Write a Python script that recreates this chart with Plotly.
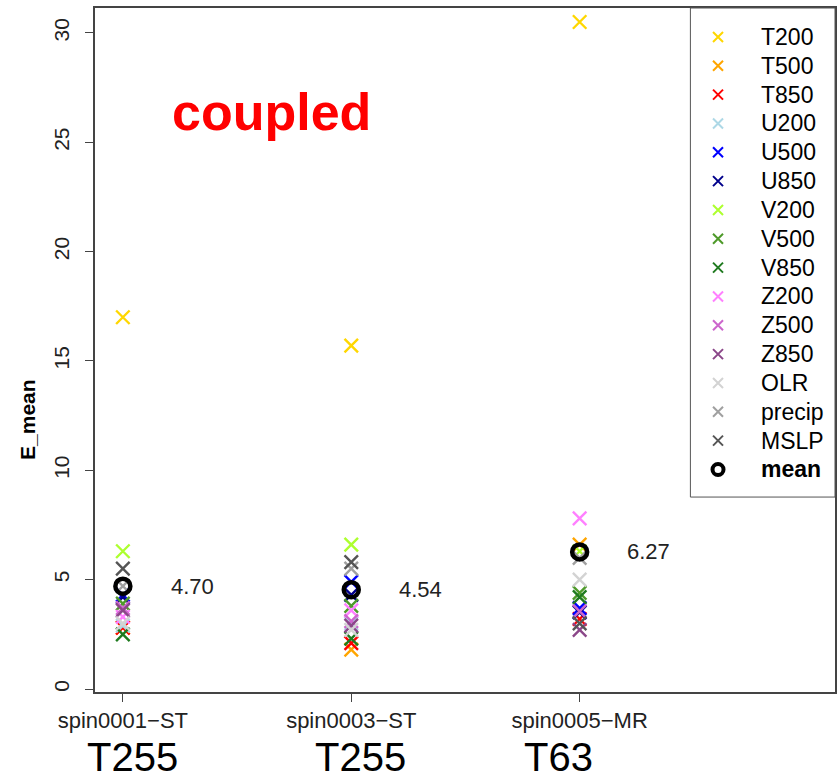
import plotly.graph_objects as go

# Runs shown along the x axis
runs = ["spin0001\u2212ST", "spin0003\u2212ST", "spin0005\u2212MR"]
resolutions = ["T255", "T255", "T63"]

# Mean error of each field for each run
variables = ["T200", "T500", "T850", "U200", "U500", "U850",
             "V200", "V500", "V850", "Z200", "Z500", "Z850",
             "OLR", "precip", "MSLP"]
T200 = [17.0, 15.7, 30.5]
T500 = [2.8, 1.8, 6.6]
T850 = [2.8, 2.1, 3.2]
U200 = [2.9, 3.0, 3.6]
U500 = [4.3, 4.9, 3.7]
U850 = [4.2, 4.3, 3.5]
V200 = [6.3, 6.6, 6.3]
V500 = [3.9, 3.8, 4.4]
V850 = [2.5, 2.3, 4.2]
Z200 = [3.3, 3.6, 7.8]
Z500 = [3.7, 3.1, 3.55]
Z850 = [3.6, 2.9, 2.7]
OLR = [3.0, 2.7, 5.0]
precip = [4.7, 5.5, 6.0]
MSLP = [5.5, 5.8, 3.0]

series = [T200, T500, T850, U200, U500, U850, V200, V500, V850,
          Z200, Z500, Z850, OLR, precip, MSLP]
colors = ["#FFD700", "#FFA500", "#FF0000", "#ADD8E6", "#0000FF", "#00008B",
          "#ADFF2F", "#4E9A2A", "#1F7A1F", "#FF80FF", "#CC66CC", "#8B4789",
          "#D3D3D3", "#A0A0A0", "#555555"]

xpos = [1, 2, 3]
means = [sum(s[i] for s in series) / len(series) for i in range(len(runs))]

FONT = "Liberation Sans, Arial, Helvetica, sans-serif"
AXIS_COL = "#444444"

fig = go.Figure()

for name, vals, col in zip(variables, series, colors):
    fig.add_trace(go.Scatter(
        x=xpos, y=vals, mode="markers", name=name, showlegend=False,
        marker=dict(symbol="x-thin-open", size=13.5, color=col,
                    line=dict(color=col, width=2.4)),
    ))

fig.add_trace(go.Scatter(
    x=xpos, y=means, mode="markers", name="mean", showlegend=False,
    marker=dict(symbol="circle-open", size=15, color="black",
                line=dict(color="black", width=4.5)),
))

# Mean value labels to the right of each run
for xv, m in zip(xpos, means):
    fig.add_annotation(x=xv + 0.2, y=m, xref="x", yref="y", text=f"{m:.2f}",
                       showarrow=False, xanchor="left", yanchor="middle",
                       font=dict(family=FONT, size=22, color="#222222"))

# Legend drawn on an overlaid pixel-like axis pair
legend_names = variables + ["mean"]
leg_idx = list(range(len(legend_names)))
LEG_MARK_X = 624.7
LEG_TEXT_X = 666
for i, (name, col) in enumerate(zip(variables, colors)):
    fig.add_trace(go.Scatter(
        x=[LEG_MARK_X], y=[i], xaxis="x2", yaxis="y2", mode="markers",
        showlegend=False, hoverinfo="skip",
        marker=dict(symbol="x-thin-open", size=10, color=col,
                    line=dict(color=col, width=2)),
    ))
fig.add_trace(go.Scatter(
    x=[LEG_MARK_X], y=[leg_idx[-1]], xaxis="x2", yaxis="y2", mode="markers",
    showlegend=False, hoverinfo="skip",
    marker=dict(symbol="circle-open", size=11, color="black",
                line=dict(color="black", width=4)),
))
for i, name in zip(leg_idx, legend_names):
    label = f"<b>{name}</b>" if name == "mean" else name
    fig.add_annotation(x=LEG_TEXT_X, y=i, xref="x2", yref="y2", text=label,
                       showarrow=False, xanchor="left", yanchor="middle",
                       font=dict(family=FONT, size=23, color="black"))

fig.add_shape(type="rect", xref="paper", yref="paper",
              x0=0.8046, x1=1.0, y0=0.285, y1=1.0,
              line=dict(color="#555555", width=1), fillcolor="rgba(0,0,0,0)",
              layer="above")

# Run resolution labels under the axis
for xp, res in zip([0.0512, 0.3585, 0.6267], resolutions):
    fig.add_annotation(x=xp, y=-0.1287, xref="paper", yref="paper", text=res,
                       showarrow=False, xanchor="center", yanchor="bottom",
                       borderpad=0,
                       font=dict(family=FONT, size=40, color="black"))

fig.add_annotation(x=0.2385, y=0.848, xref="paper", yref="paper",
                   text="<b>coupled</b>", showarrow=False,
                   xanchor="center", yanchor="middle",
                   font=dict(family=FONT, size=52, color="#FF0000"))

fig.add_annotation(x=-0.0903, y=0.398, xref="paper", yref="paper",
                   text="<b>E_mean</b>", textangle=-90, showarrow=False,
                   xanchor="center", yanchor="middle",
                   font=dict(family=FONT, size=21, color="black"))

fig.update_layout(
    width=839, height=780,
    margin=dict(l=95, r=2, t=8, b=88),
    paper_bgcolor="white", plot_bgcolor="white",
    showlegend=False,
    xaxis=dict(range=[0.878, 4.118], tickvals=xpos, ticktext=runs,
               showgrid=False, zeroline=False, showline=True, mirror=True,
               linecolor=AXIS_COL, linewidth=1.5, ticks="outside", ticklen=8,
               tickwidth=1.2, tickcolor=AXIS_COL,
               tickfont=dict(family=FONT, size=22, color="#222222")),
    yaxis=dict(range=[-0.137, 31.14], tickvals=[0, 5, 10, 15, 20, 25, 30],
               showgrid=False, zeroline=False, showline=True, mirror=True,
               linecolor=AXIS_COL, linewidth=1.5, ticks="outside", ticklen=8,
               tickwidth=1.2, tickcolor=AXIS_COL, tickangle=-90,
               ticklabelstandoff=8,
               tickfont=dict(family=FONT, size=21, color="#222222")),
    xaxis2=dict(overlaying="x", range=[0, 742], visible=False),
    yaxis2=dict(overlaying="y", range=[22.72, -1.006], visible=False),
)

fig.write_html("out.html")
